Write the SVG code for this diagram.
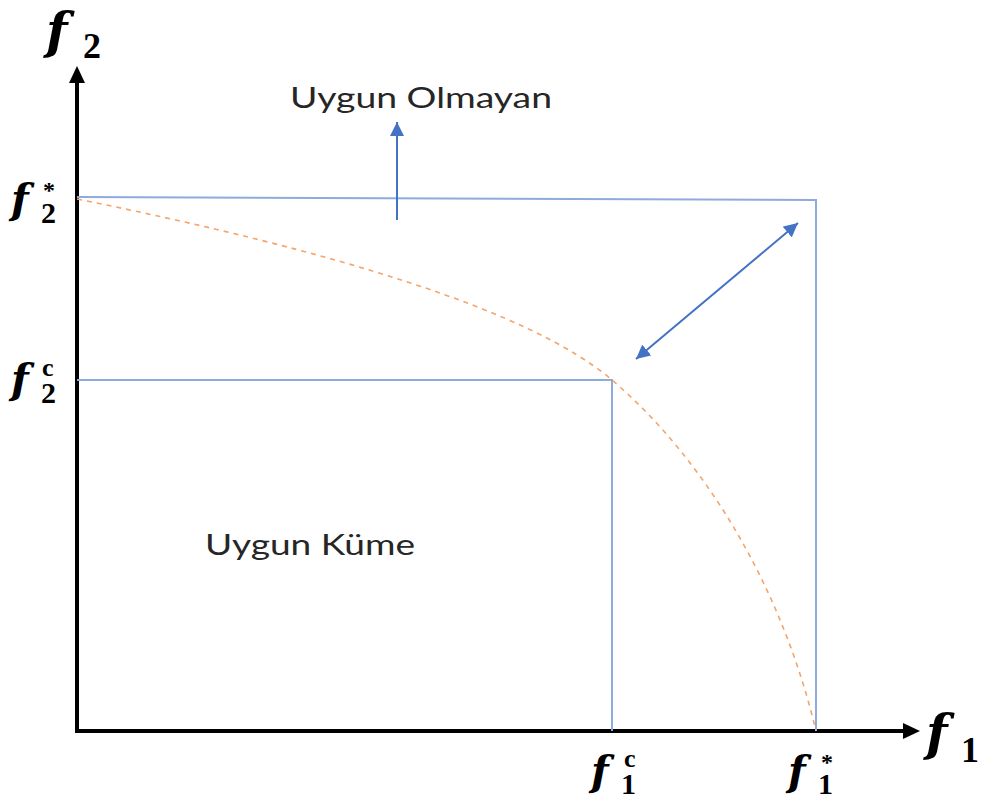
<svg xmlns="http://www.w3.org/2000/svg" width="989" height="799" viewBox="0 0 989 799">
<style>
.ax{stroke:#000;stroke-width:4;fill:none}
.bl{stroke:#8faadc;stroke-width:2;fill:none}
.ar{stroke:#4472c4;stroke-width:2;fill:none}
.cv{stroke:#f4a46c;stroke-width:1.6;fill:none;stroke-dasharray:5 5}
.lbl{font-family:Lato,"Open Sans","Liberation Sans",sans-serif;font-size:28px;fill:#262626}
.mt{font-family:"Liberation Serif","DejaVu Serif",serif;font-weight:bold;fill:#000}
.f{font-family:"DejaVu Serif","Liberation Serif",serif;font-style:italic}
</style>
<defs>
<marker id="hb" markerWidth="14" markerHeight="14" refX="12" refY="6" orient="auto-start-reverse" markerUnits="userSpaceOnUse" viewBox="0 0 12 12"><path d="M0,0 L12,6 L0,12 z" fill="#4472c4"/></marker>
</defs>
<g id="axes">
<line class="ax" x1="77" y1="731" x2="77" y2="82"/>
<path d="M69,83 L77,66 L85,83 z" fill="#000"/>
<line class="ax" x1="75" y1="731" x2="904" y2="731"/>
<path d="M903,723 L920,731 L903,739 z" fill="#000"/>
</g>
<g id="connectors">
<polyline class="bl" points="77,197 816,200 816,731"/>
<polyline class="bl" points="77,380 612,380 612,731"/>
<path class="cv" d="M77,199 C330,250 530,310 612,380 C700,455 780,580 816,731"/>
<line class="ar" x1="397" y1="220" x2="397" y2="122" marker-end="url(#hb)"/>
<line class="ar" x1="636" y1="359" x2="798" y2="223" marker-start="url(#hb)" marker-end="url(#hb)"/>
</g>
<g id="label-infeasible"><text class="lbl" x="290" y="108" textLength="262" lengthAdjust="spacingAndGlyphs">Uygun Olmayan</text></g>
<g id="label-feasible"><text class="lbl" x="205" y="555" textLength="210" lengthAdjust="spacingAndGlyphs">Uygun Küme</text></g>
<g id="f2-axis"><text class="mt"><tspan class="f" x="46" y="48" font-size="50">f</tspan><tspan x="83" y="58" font-size="36">2</tspan></text></g>
<g id="f1-axis"><text class="mt"><tspan class="f" x="926" y="750" font-size="50">f</tspan><tspan x="961" y="762" font-size="36">1</tspan></text></g>
<g id="f2-star"><text class="mt"><tspan class="f" x="11" y="213" font-size="41">f</tspan><tspan x="43" y="198" font-size="24">*</tspan><tspan x="41" y="223" font-size="30">2</tspan></text></g>
<g id="f2-c"><text class="mt"><tspan class="f" x="11" y="393" font-size="41">f</tspan><tspan x="42" y="376" font-size="26">c</tspan><tspan x="41" y="403" font-size="30">2</tspan></text></g>
<g id="f1-c"><text class="mt"><tspan class="f" x="591" y="785" font-size="41">f</tspan><tspan x="624" y="767" font-size="26">c</tspan><tspan x="621" y="794" font-size="30">1</tspan></text></g>
<g id="f1-star"><text class="mt"><tspan class="f" x="788" y="785" font-size="41">f</tspan><tspan x="821" y="770" font-size="24">*</tspan><tspan x="818" y="794" font-size="30">1</tspan></text></g>
</svg>
